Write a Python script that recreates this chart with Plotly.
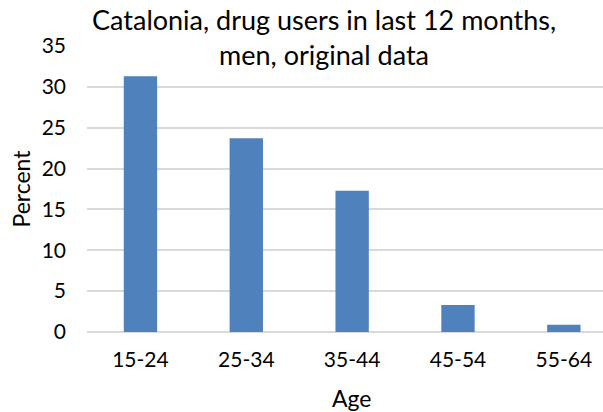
import plotly.graph_objects as go

# Share of men in Catalonia who used drugs in the last 12 months, by age group
age_groups = ["15-24", "25-34", "35-44", "45-54", "55-64"]
percent = [31.3, 23.7, 17.3, 3.3, 0.9]
y_ticks = [0, 5, 10, 15, 20, 25, 30, 35]

W, H = 603, 412
M_L, M_R, M_T, M_B = 87, 0, 46, 80
FONT = "Lato"
BAR = "#4f81bd"
GRID = "#d9d9d9"


def paper_y(px):
    """Convert a pixel row (from the top) into paper coordinates."""
    return (H - M_B - px) / (H - M_T - M_B)


def paper_x(px):
    return (px - M_L) / (W - M_L - M_R)


fig = go.Figure(
    go.Bar(
        x=list(range(len(age_groups))),
        y=percent,
        marker=dict(color=BAR, line=dict(width=0)),
        width=0.315,
    )
)

fig.update_layout(
    width=W,
    height=H,
    margin=dict(l=M_L, r=M_R, t=M_T, b=M_B),
    paper_bgcolor="white",
    plot_bgcolor="white",
    showlegend=False,
    font=dict(family=FONT, color="#000000"),
)

fig.update_xaxes(
    range=[-0.505, 4.37],
    tickmode="array",
    tickvals=list(range(len(age_groups))),
    ticktext=age_groups,
    tickfont=dict(size=21, family=FONT),
    showgrid=False,
    showline=False,
    zeroline=False,
    ticks="",
    ticklabelstandoff=13,
    fixedrange=True,
)

fig.update_yaxes(
    range=[0, 35],
    tickmode="array",
    tickvals=y_ticks,
    tickfont=dict(size=21, family=FONT),
    showgrid=True,
    gridcolor=GRID,
    gridwidth=1.5,
    zeroline=True,
    zerolinecolor=GRID,
    zerolinewidth=1.5,
    showline=False,
    ticks="",
    ticklabelstandoff=20,
    title=dict(text="Percent", font=dict(size=23, family=FONT), standoff=4),
    fixedrange=True,
)

# Chart title, two centred lines
fig.add_annotation(
    x=paper_x(324),
    xref="paper",
    y=paper_y(1),
    yref="paper",
    text="Catalonia, drug users in last 12 months,<br>men, original data",
    showarrow=False,
    font=dict(size=27, family=FONT),
    xanchor="center",
    yanchor="top",
    align="center",
)

# Horizontal axis title, centred under the middle age group
fig.add_annotation(
    x=2,
    xref="x",
    y=paper_y(398),
    yref="paper",
    text="Age",
    showarrow=False,
    font=dict(size=23, family=FONT),
    yanchor="middle",
)

fig.write_html("out.html")
